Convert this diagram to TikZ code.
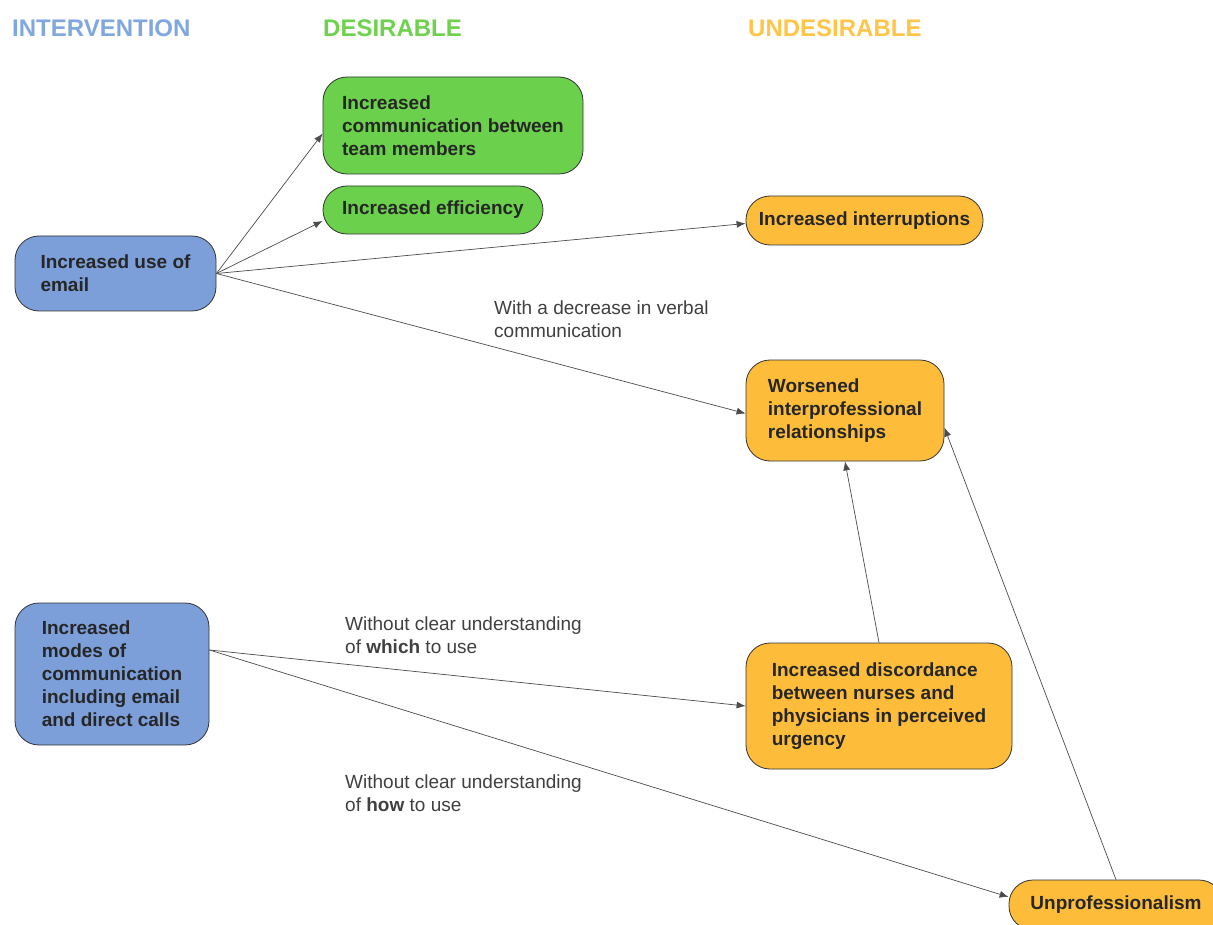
\documentclass[tikz,border=0pt]{standalone}
\usepackage{fontspec}
\setmainfont{Liberation Sans}
\usetikzlibrary{arrows.meta}
\definecolor{introblue}{HTML}{7C9FDA}
\definecolor{goodgreen}{HTML}{6BD04B}
\definecolor{badorange}{HTML}{FDBD3A}
\definecolor{headblue}{HTML}{80A7DF}
\definecolor{headgreen}{HTML}{6FD24E}
\definecolor{headorange}{HTML}{FFC548}

\begin{document}
\begin{tikzpicture}
  [x = 1pt, y = -1pt,
   box/.style = {draw = black!80, line width = .8pt, rounded corners = 24pt, align = left,
     inner sep = 0pt, text = black!85, font = \bfseries\fontsize{19}{23}\selectfont},
   effect/.style = {-{Latex[length = 9pt, width = 7pt]}, draw = black!70, line width = .7pt},
   note/.style = {anchor = north west, inner sep = 0pt, align = left, text = black!75,
     font = \fontsize{19}{23}\selectfont},
   heading/.style = {anchor = base west, inner sep = 0pt, font = \bfseries\fontsize{24}{28}\selectfont}]
  \useasboundingbox (0,0) rectangle (1213,925);
  \fill[white] (0,0) rectangle (1213,925);

  % column headings
  \node[heading, text = headblue] (hint) at (12, 36.5) {INTERVENTION};
  \node[heading, text = headgreen] (hgood) at (323, 36.5) {DESIRABLE};
  \node[heading, text = headorange] (hbad) at (748, 36.5) {UNDESIRABLE};

  % interventions
  \node[box, fill = introblue, minimum width = 201pt, minimum height = 75pt] (email) at (115.5, 273.5)
    {Increased use of\\email};
  \node[box, fill = introblue, minimum width = 194pt, minimum height = 142pt] (modes) at (112, 674)
    {Increased\\modes of\\communication\\including email\\and direct calls};

  % desirable
  \node[box, fill = goodgreen, minimum width = 260pt, minimum height = 97pt] (comm) at (453, 125.5)
    {Increased\\communication between\\team members};
  \node[box, fill = goodgreen, minimum width = 220pt, minimum height = 48pt] (eff) at (433, 210)
    {Increased efficiency};

  % undesirable
  \node[box, fill = badorange, minimum width = 237pt, minimum height = 49pt] (interr) at (864.5, 220.5)
    {Increased interruptions};
  \node[box, fill = badorange, minimum width = 198pt, minimum height = 101pt] (worse) at (845, 410.5)
    {Worsened\\interprofessional\\relationships};
  \node[box, fill = badorange, minimum width = 266pt, minimum height = 126pt] (disc) at (879, 706)
    {Increased discordance\\between nurses and\\physicians in perceived\\urgency};
  \node[box, fill = badorange, minimum width = 214pt, minimum height = 50pt] (unprof) at (1116, 905)
    {Unprofessionalism};

  % conditions
  \node[note] (verbal) at (494, 301) {With a decrease in verbal\\communication};
  \node[note] (which) at (345, 617) {Without clear understanding\\of \textbf{which} to use};
  \node[note] (how) at (345, 775) {Without clear understanding\\of \textbf{how} to use};

  \draw[effect] (email.east) -- ([yshift = -8pt]comm.west);
  \draw[effect] (email.east) -- ([yshift = -11pt]eff.west);
  \draw[effect] (email.east) -- ([yshift = -3pt]interr.west);
  \draw[effect] (email.east) -- ([yshift = -3pt]worse.west);
  \draw[effect] ([yshift = 24pt]modes.east) -- (disc.west);
  \draw[effect] ([yshift = 24pt]modes.east) -- ([yshift = 8pt]unprof.west);
  \draw[effect] (disc.north) -- (worse.south);
  \draw[effect] (unprof.north) -- ([yshift = -17pt]worse.east);
\end{tikzpicture}
\end{document}
